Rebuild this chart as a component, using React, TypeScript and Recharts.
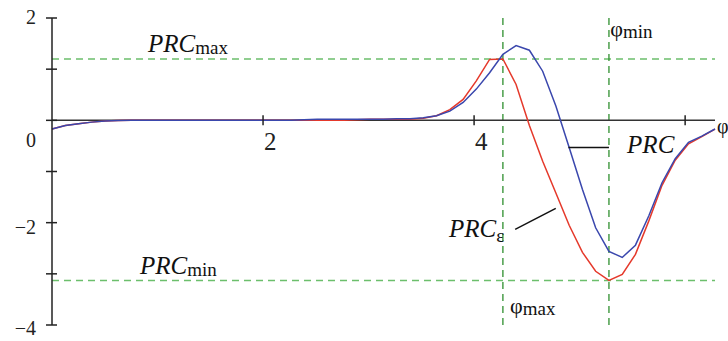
// Phase response curve PRC vs. its ε-approximation
import { LineChart, Line, XAxis, YAxis, ReferenceLine, ReferenceDot } from "recharts";

const PHI = [
  0, 0.126, 0.251, 0.377, 0.503, 0.628, 0.754, 0.88, 1.005, 1.131, 1.257, 1.382,
  1.508, 1.634, 1.759, 1.885, 2.011, 2.136, 2.262, 2.388, 2.513, 2.639, 2.765,
  2.89, 3.016, 3.142, 3.267, 3.393, 3.519, 3.644, 3.77, 3.896, 4.021, 4.147,
  4.273, 4.398, 4.524, 4.65, 4.775, 4.901, 5.027, 5.152, 5.278, 5.404, 5.529,
  5.655, 5.781, 5.906, 6.032, 6.158, 6.283,
];

// blue curve
const PRC = [
  -0.17, -0.1, -0.065, -0.035, -0.015, -0.005, 0, 0, 0, 0, 0, 0, 0, 0, 0, 0, 0,
  0, 0, 0.01, 0.02, 0.02, 0.02, 0.02, 0.02, 0.02, 0.03, 0.03, 0.05, 0.09, 0.18,
  0.35, 0.61, 0.93, 1.29, 1.46, 1.37, 0.96, 0.28, -0.53, -1.35, -2.1, -2.56,
  -2.68, -2.44, -1.87, -1.22, -0.75, -0.43, -0.31, -0.17,
];

// red curve
const PRC_EPS = [
  -0.17, -0.1, -0.065, -0.035, -0.015, -0.005, 0, 0, 0, 0, 0, 0, 0, 0, 0, 0, 0,
  0, 0, 0, 0, 0, 0, 0.01, 0.02, 0.02, 0.02, 0.02, 0.04, 0.09, 0.21, 0.41, 0.77,
  1.19, 1.2, 0.7, -0.1, -0.8, -1.42, -2.05, -2.58, -2.95, -3.13, -3.01, -2.62,
  -1.97, -1.27, -0.78, -0.46, -0.32, -0.17,
];

const PRC_MAX = 1.2;
const PRC_MIN = -3.13;
const PHI_MAX = 4.273;
const PHI_MIN = 5.278;

const Y_TICKS = [-4, -3, -2, -1, 0, 1, 2];
const Y_TICK_LABELS: Record<number, string> = { 2: "2", 0: "0", [-2]: "\u22122", [-4]: "\u22124" };
const X_TICKS = [2, 4, 6];
const X_TICK_LABELS = ["2", "4", ""];

const FONT = "'Liberation Serif', 'DejaVu Serif', serif";
const AXIS = "#222";

const chartData = PHI.map((phi, i) => ({ phi, prc: PRC[i], prcEps: PRC_EPS[i] }));

// text annotations, anchored in data coordinates
const ANNOTATIONS = [
  { x: 0.91, y: 1.34, main: "PRC", sub: "max", italic: true, size: 25, subDy: 2 },
  { x: 0.834, y: -3.0, main: "PRC", sub: "min", italic: true, size: 25, subDy: 2 },
  { x: 5.29, y: 1.65, main: "\u03c6", sub: "min", italic: false, size: 22, subDy: 2 },
  { x: 4.34, y: -3.77, main: "\u03c6", sub: "max", italic: false, size: 22, subDy: 2 },
  { x: 5.45, y: -0.636, main: "PRC", sub: "", italic: true, size: 25, subDy: 0 },
  { x: 3.763, y: -2.28, main: "PRC", sub: "\u03b5", italic: true, size: 25, subDy: 5 },
  { x: 6.303, y: -0.245, main: "\u03c6", sub: "", italic: false, size: 20, subDy: 0 },
];

const LEADERS = [
  [{ x: 4.894, y: -0.53 }, { x: PHI_MIN, y: -0.53 }],
  [{ x: 4.389, y: -2.13 }, { x: 4.774, y: -1.72 }],
];

const Y_LABEL_DY: Record<number, number> = { 2: 6, 0: 27, [-2]: 11, [-4]: 10 };

function YTick({ x, y, payload }: any) {
  const v = payload.value;
  const label = Y_TICK_LABELS[v];
  return (
    <g>
      <line x1={x - 6} x2={x + 5} y1={y} y2={y} stroke={AXIS} strokeWidth={1.5} />
      {label && (
        <text x={x - 16} y={y + Y_LABEL_DY[v]} textAnchor="end" fontFamily={FONT} fontSize={20} fill="#222">
          {label}
        </text>
      )}
    </g>
  );
}

export default function App() {
  return (
    <div style={{ position: "absolute", left: 0, top: 0, background: "#fff" }}>
      <LineChart
        width={728}
        height={341}
        data={chartData}
        margin={{ top: 18, right: 13, left: 0, bottom: 16 }}
      >
        <XAxis type="number" dataKey="phi" domain={[0, 6.283]} hide />
        <YAxis
          type="number"
          domain={[-4, 2]}
          ticks={Y_TICKS}
          interval={0}
          width={52}
          tickSize={0}
          tickMargin={0}
          tickLine={false}
          axisLine={{ stroke: AXIS, strokeWidth: 1.5 }}
          tick={<YTick />}
        />

        <ReferenceLine y={PRC_MAX} stroke="#6cbf6c" strokeWidth={1.5} strokeDasharray="7 5" />
        <ReferenceLine y={PRC_MIN} stroke="#6cbf6c" strokeWidth={1.5} strokeDasharray="7 5" />
        <ReferenceLine x={PHI_MAX} stroke="#2f8f2f" strokeWidth={1.3} strokeDasharray="7 5" />
        <ReferenceLine x={PHI_MIN} stroke="#2f8f2f" strokeWidth={1.3} strokeDasharray="7 5" />

        {/* x axis through the origin */}
        <ReferenceLine y={0} stroke="#333" strokeWidth={1.5} />
        {X_TICKS.map((t, i) => (
          <ReferenceDot
            key={t}
            x={t}
            y={0}
            r={0}
            ifOverflow="visible"
            shape={(p: any) => (
              <g>
                <line x1={p.cx} x2={p.cx} y1={p.cy - 5} y2={p.cy + 5} stroke={AXIS} strokeWidth={1.5} />
                {X_TICK_LABELS[i] && (
                  <text x={p.cx + 1} y={p.cy + 30} fontFamily={FONT} fontSize={25} fill="#222">
                    {X_TICK_LABELS[i]}
                  </text>
                )}
              </g>
            )}
          />
        ))}

        <Line
          type="linear"
          dataKey="prcEps"
          stroke="#e5392b"
          strokeWidth={1.5}
          dot={false}
          isAnimationActive={false}
        />
        <Line
          type="linear"
          dataKey="prc"
          stroke="#3a47ad"
          strokeWidth={1.5}
          dot={false}
          isAnimationActive={false}
        />

        {LEADERS.map((seg, i) => (
          <ReferenceLine key={i} segment={seg} stroke="#111" strokeWidth={1.5} ifOverflow="visible" />
        ))}

        {ANNOTATIONS.map((a, i) => (
          <ReferenceDot
            key={i}
            x={a.x}
            y={a.y}
            r={0}
            ifOverflow="visible"
            shape={(p: any) => (
              <text x={p.cx} y={p.cy} fontFamily={FONT} fill="#111">
                <tspan fontSize={a.size} fontStyle={a.italic ? "italic" : "normal"}>
                  {a.main}
                </tspan>
                {a.sub && (
                  <tspan fontSize={19} dy={a.subDy}>
                    {a.sub}
                  </tspan>
                )}
              </text>
            )}
          />
        ))}
      </LineChart>
    </div>
  );
}
